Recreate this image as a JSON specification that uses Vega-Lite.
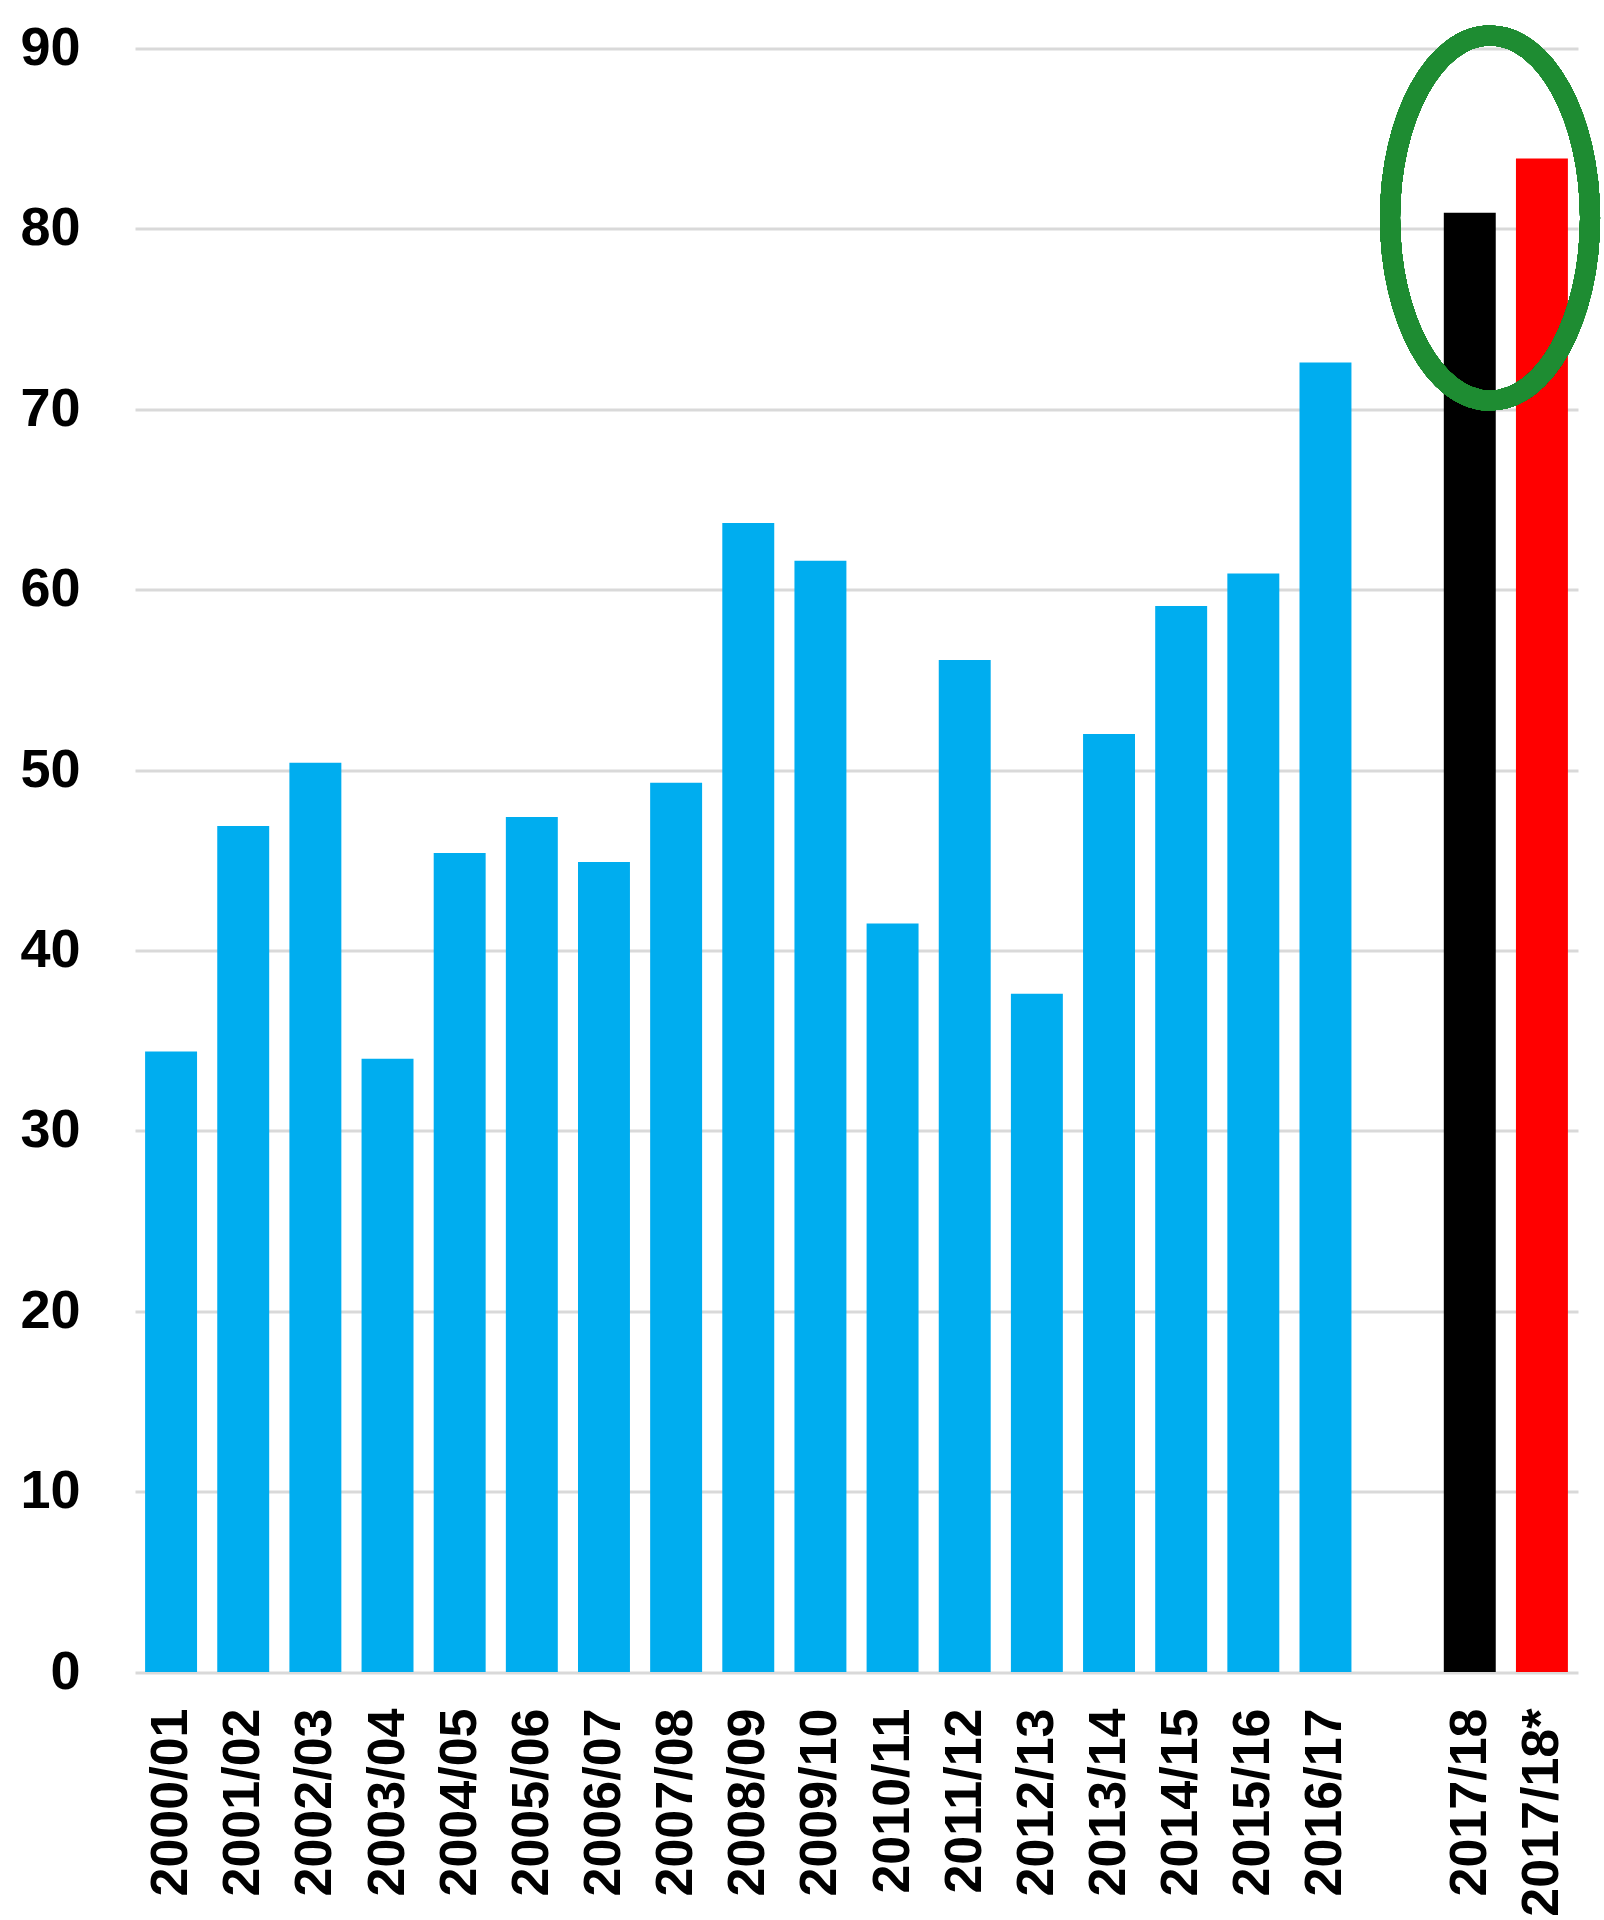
{
  "$schema": "https://vega.github.io/schema/vega-lite/v6.json",
  "autosize": {"type": "none"},
  "width": 1443,
  "height": 1623.5,
  "padding": {"left": 135, "top": 48.5, "right": 26, "bottom": 248},
  "background": "white",
  "config": {"view": {"stroke": null}},
  "data": {
    "values": [
      {"season": "2000/01", "value": 34.4, "kind": "past"},
      {"season": "2001/02", "value": 46.9, "kind": "past"},
      {"season": "2002/03", "value": 50.4, "kind": "past"},
      {"season": "2003/04", "value": 34.0, "kind": "past"},
      {"season": "2004/05", "value": 45.4, "kind": "past"},
      {"season": "2005/06", "value": 47.4, "kind": "past"},
      {"season": "2006/07", "value": 44.9, "kind": "past"},
      {"season": "2007/08", "value": 49.3, "kind": "past"},
      {"season": "2008/09", "value": 63.7, "kind": "past"},
      {"season": "2009/10", "value": 61.6, "kind": "past"},
      {"season": "2010/11", "value": 41.5, "kind": "past"},
      {"season": "2011/12", "value": 56.1, "kind": "past"},
      {"season": "2012/13", "value": 37.6, "kind": "past"},
      {"season": "2013/14", "value": 52.0, "kind": "past"},
      {"season": "2014/15", "value": 59.1, "kind": "past"},
      {"season": "2015/16", "value": 60.9, "kind": "past"},
      {"season": "2016/17", "value": 72.6, "kind": "past"},
      {"season": "2017/18", "value": 80.9, "kind": "current"},
      {"season": "2017/18*", "value": 83.9, "kind": "forecast"}
    ]
  },
  "layer": [
    {
      "mark": {"type": "bar"},
      "encoding": {
        "x": {
          "field": "season",
          "type": "nominal",
          "sort": null,
          "scale": {
            "domain": ["2000/01", "2001/02", "2002/03", "2003/04", "2004/05", "2005/06", "2006/07", "2007/08", "2008/09", "2009/10", "2010/11", "2011/12", "2012/13", "2013/14", "2014/15", "2015/16", "2016/17", " ", "2017/18", "2017/18*"],
            "paddingInner": 0.28,
            "paddingOuter": 0.14
          },
          "axis": {
            "title": null,
            "labelAngle": -90,
            "labelFont": "Liberation Sans",
            "labelFontWeight": "bold",
            "labelFontSize": 52,
            "labelColor": "#000000",
            "labelPadding": 36,
            "labelLimit": 0,
            "labelOverlap": false,
            "ticks": false,
            "domain": false,
            "grid": false
          }
        },
        "y": {
          "field": "value",
          "type": "quantitative",
          "scale": {"domain": [0, 90], "nice": false},
          "axis": {
            "title": null,
            "values": [0, 10, 20, 30, 40, 50, 60, 70, 80, 90],
            "labelFont": "Liberation Sans",
            "labelFontWeight": "bold",
            "labelFontSize": 54,
            "labelColor": "#000000",
            "labelPadding": 55,
            "labelLimit": 0,
            "ticks": false,
            "domain": false,
            "grid": true,
            "gridColor": "#d9d9d9",
            "gridWidth": 3
          }
        },
        "color": {
          "field": "kind",
          "type": "nominal",
          "scale": {"domain": ["past", "current", "forecast"], "range": ["#00adef", "#000000", "#ff0000"]},
          "legend": null
        }
      }
    },
    {
      "mark": {
        "type": "point",
        "shape": "M 0 -1 A 0.548 1 0 1 1 0 1 A 0.548 1 0 1 1 0 -1 Z",
        "size": 133225,
        "filled": false,
        "stroke": "#1e8c32",
        "strokeWidth": 20,
        "opacity": 1
      },
      "encoding": {
        "x": {"datum": "2017/18", "bandPosition": 0.89},
        "y": {"datum": 80.6}
      }
    }
  ]
}
